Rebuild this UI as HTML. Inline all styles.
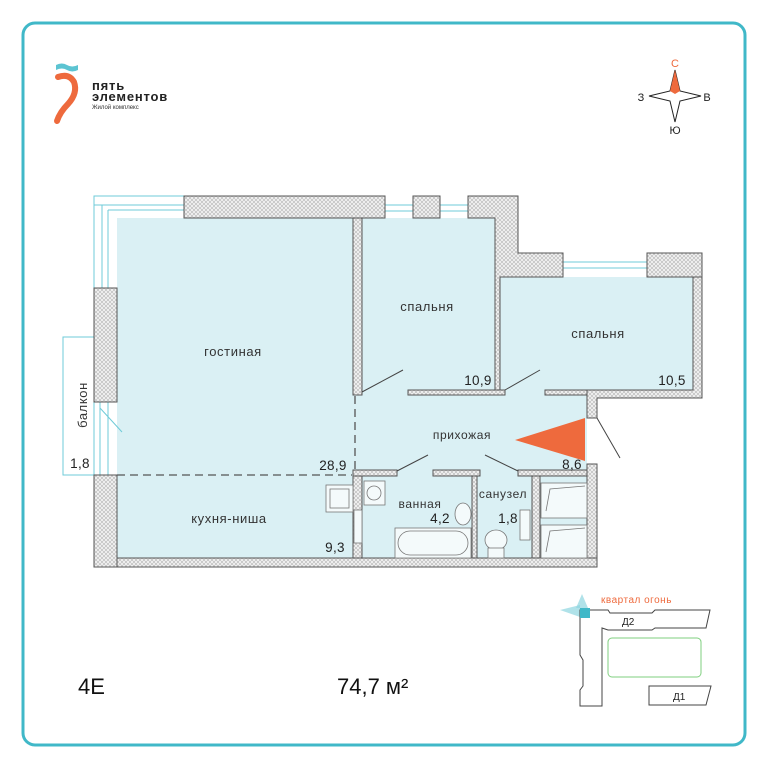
<!DOCTYPE html>
<html><head><meta charset="utf-8">
<style>
html,body{margin:0;padding:0;background:#fff;}
svg{display:block;font-family:"Liberation Sans","DejaVu Sans",sans-serif;}
</style></head><body>
<svg width="768" height="768" viewBox="0 0 768 768" xmlns="http://www.w3.org/2000/svg">
<defs>
<pattern id="h" width="4" height="4" patternUnits="userSpaceOnUse">
<rect width="4" height="4" fill="#f2f2f2"/>
<path d="M0 4L4 0M0 0L4 4" stroke="#b5b5b5" stroke-width="0.6"/>
</pattern>
</defs>
<rect x="23" y="23" width="722" height="722" rx="12" fill="#fff" stroke="#40b8c8" stroke-width="3"/>

<!-- logo -->
<path d="M56 65 Q62 62 67 65 Q72 68 78 65 V70 Q72 73 67 70 Q62 67 56 70Z" fill="#5cc4d2"/>
<path d="M58 77 Q69 73 74 82 Q78 93 68 104 Q60 112 57 121" fill="none" stroke="#ee6a3d" stroke-width="6" stroke-linecap="round"/>
<text x="92" y="90" font-size="13" fill="#222" font-weight="bold" letter-spacing="0.8">пять</text>
<text x="92" y="101" font-size="13" fill="#222" font-weight="bold" letter-spacing="0.8">элементов</text>
<text x="92" y="109" font-size="6" fill="#333">Жилой комплекс</text>

<!-- compass -->
<path d="M675 70 L680 91 L701 96 L680 101 L675 122 L670 101 L649 96 L670 91Z" fill="#fff" stroke="#222" stroke-width="1"/>
<path d="M675 70 L680 91 L675 94 L670 91Z" fill="#ee6a3d"/>
<text x="675" y="67" font-size="11" fill="#ee6a3d" text-anchor="middle">С</text>
<text x="641" y="101" font-size="11" fill="#222" text-anchor="middle">З</text>
<text x="707" y="101" font-size="11" fill="#222" text-anchor="middle">В</text>
<text x="675" y="134" font-size="11" fill="#222" text-anchor="middle">Ю</text>

<!-- room fills -->
<g fill="#daf0f4">
<rect x="117" y="218" width="238" height="340"/>
<rect x="355" y="218" width="140" height="175"/>
<rect x="500" y="277" width="193" height="114"/>
<rect x="355" y="390" width="232" height="84"/>
<rect x="362" y="474" width="225" height="84"/>
</g>

<!-- windows -->
<g fill="none" stroke="#6fcbd8" stroke-width="1">
<rect x="94" y="196" width="90" height="9"/>
<path d="M94 205V288M102 205V288M108 210V288M108 210H184"/>
<path d="M385 205H413M385 211H413M440 205H468M440 211H468M563 262H647M563 268H647"/>
<rect x="63" y="337" width="31" height="138"/>
<path d="M100 402V475M108 402V475M100 408L122 432"/>
</g>

<!-- walls -->
<g fill="url(#h)" stroke="#555" stroke-width="1">
<rect x="184" y="196" width="201" height="22"/>
<rect x="413" y="196" width="27" height="22"/>
<path d="M468 196H518V253H563V277H500V392H495V218H468Z"/>
<rect x="647" y="253" width="55" height="24"/>
<path d="M693 277H702V398H597V418H587V390H693Z"/>
<rect x="94" y="288" width="23" height="114"/>
<rect x="94" y="475" width="23" height="92"/>
<rect x="117" y="558" width="480" height="9"/>
<rect x="587" y="464" width="10" height="94"/>
<rect x="353" y="218" width="9" height="177"/>
<rect x="408" y="390" width="97" height="5"/>
<rect x="545" y="390" width="42" height="5"/>
<rect x="353" y="470" width="44" height="6"/>
<rect x="433" y="470" width="47" height="6"/>
<rect x="518" y="470" width="69" height="6"/>
<rect x="353" y="476" width="9" height="82"/>
<rect x="472" y="476" width="5" height="82"/>
<rect x="532" y="476" width="8" height="82"/>
</g>

<!-- dashed -->
<path d="M117 475H352M355 396V472" stroke="#555" stroke-width="1.3" stroke-dasharray="8,5" fill="none"/>

<!-- doors -->
<g stroke="#444" stroke-width="1" fill="none">
<path d="M362 392L403 370M505 390L540 370M597 418L620 458M397 471L428 455M485 455L518 471"/>
</g>

<!-- fixtures -->
<g stroke="#777" stroke-width="0.8" fill="#f4fafb">
<rect x="326" y="485" width="27" height="27"/>
<rect x="330" y="489" width="19" height="19"/>
<rect x="364" y="481" width="21" height="24"/>
<circle cx="374" cy="493" r="7" fill="none"/>
<rect x="354" y="510" width="8" height="33"/>
<rect x="395" y="528" width="76" height="30"/>
<rect x="398" y="531" width="70" height="24" rx="12"/>
<ellipse cx="463" cy="514" rx="8" ry="11"/>
<rect x="520" y="510" width="10" height="30"/>
<ellipse cx="496" cy="540" rx="11" ry="10"/>
<rect x="488" y="548" width="16" height="10"/>
<rect x="541" y="483" width="46" height="35"/>
<rect x="541" y="525" width="46" height="33"/>
<path d="M546 511L550 489L585 486M546 552L550 531L585 528" fill="none"/>
</g>

<!-- orange triangle -->
<path d="M515 440L585 418V461Z" fill="#ee6a3d"/>

<!-- labels -->
<g font-size="13" fill="#333" text-anchor="middle" letter-spacing="0.6">
<text x="233" y="356">гостиная</text>
<text x="427" y="311">спальня</text>
<text x="598" y="338">спальня</text>
<text x="462" y="439" font-size="12">прихожая</text>
<text x="420" y="508" font-size="12">ванная</text>
<text x="503" y="498" font-size="12">санузел</text>
<text x="229" y="523">кухня-ниша</text>
<text x="87" y="405" transform="rotate(-90 87 405)">балкон</text>
</g>
<g font-size="13.5" fill="#222" text-anchor="middle" letter-spacing="0.3">
<text x="333" y="470">28,9</text>
<text x="478" y="385">10,9</text>
<text x="672" y="385">10,5</text>
<text x="572" y="469">8,6</text>
<text x="440" y="523">4,2</text>
<text x="508" y="523">1,8</text>
<text x="335" y="552">9,3</text>
<text x="80" y="468">1,8</text>
</g>

<text x="78" y="694" font-size="22" fill="#111">4E</text>
<text x="337" y="694" font-size="22" fill="#111">74,7 м²</text>

<!-- minimap -->
<path d="M582 594L588 608H576Z" fill="#8fd6e0" opacity="0.7"/>
<path d="M560 610L580 605V617Z" fill="#8fd6e0" opacity="0.7"/>
<g fill="#fff" stroke="#444" stroke-width="1">
<path d="M580 610H608L610 613H652L655 610H710L706 628H655L652 630H608L602 628V706H580V690L583 686V660L580 655Z"/>
<path d="M649 686H711L706 705H649Z"/>
</g>
<rect x="580" y="608" width="10" height="10" fill="#40b8c8"/>
<rect x="608" y="638" width="93" height="39" rx="4" fill="none" stroke="#7fcf7f" stroke-width="1"/>
<text x="601" y="603" font-size="10" fill="#ee6a3d" letter-spacing="0.5">квартал огонь</text>
<text x="622" y="625" font-size="10" fill="#222">Д2</text>
<text x="673" y="700" font-size="10" fill="#222">Д1</text>
</svg>
</body></html>
